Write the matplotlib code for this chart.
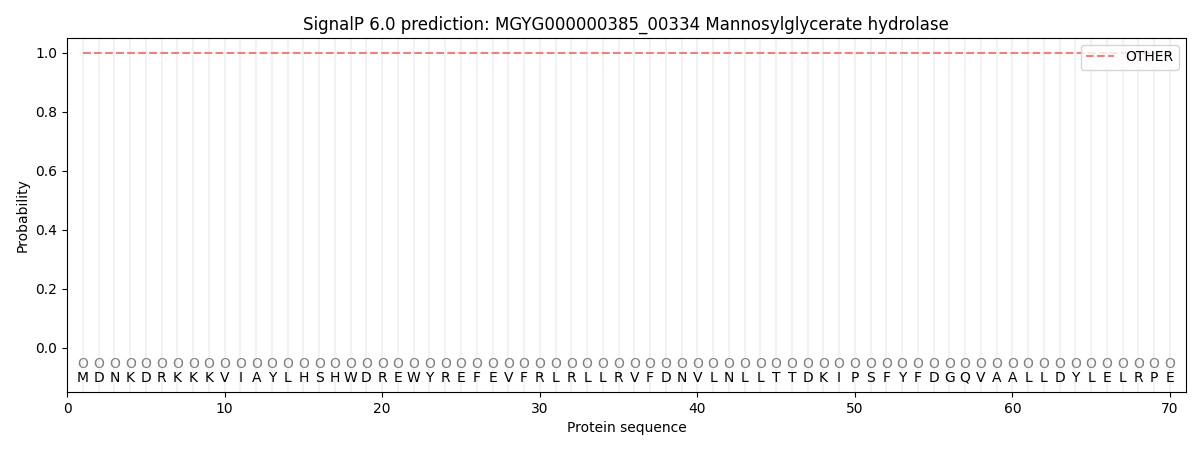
import numpy as np
import matplotlib.pyplot as plt

seq = "MDNKDRKKKVIAYLHSHWDREWYREFEVFRLRLLRVFDNVLNLLTTDKIPSFYFDGQVAALLDYLELRPE"
pos = np.arange(1, len(seq) + 1)
other = [1.0] * len(seq)
labels = ["O"] * len(seq)

fig = plt.figure(figsize=(12, 4.5), dpi=100)
ax = fig.add_axes([0.056, 0.129, 0.932, 0.787])

for p in pos:
    ax.axvline(p, color='#f2f2f2', lw=1.5, zorder=0)

ax.plot(pos, other, '--', color='#f08080', lw=1.5, label='OTHER')

for p, c, l in zip(pos, seq, labels):
    ax.text(p, -0.05, l, ha='center', va='center_baseline', color='grey', fontsize=10)
    ax.text(p, -0.097, c, ha='center', va='center_baseline', color='black', fontsize=10)

ax.set_xlim(0, 71)
ax.set_ylim(-0.15, 1.05)
ax.set_xlabel('Protein sequence')
ax.set_ylabel('Probability')
ax.set_title('SignalP 6.0 prediction: MGYG000000385_00334 Mannosylglycerate hydrolase')
ax.legend(loc='upper right')

fig.savefig('out.png')
